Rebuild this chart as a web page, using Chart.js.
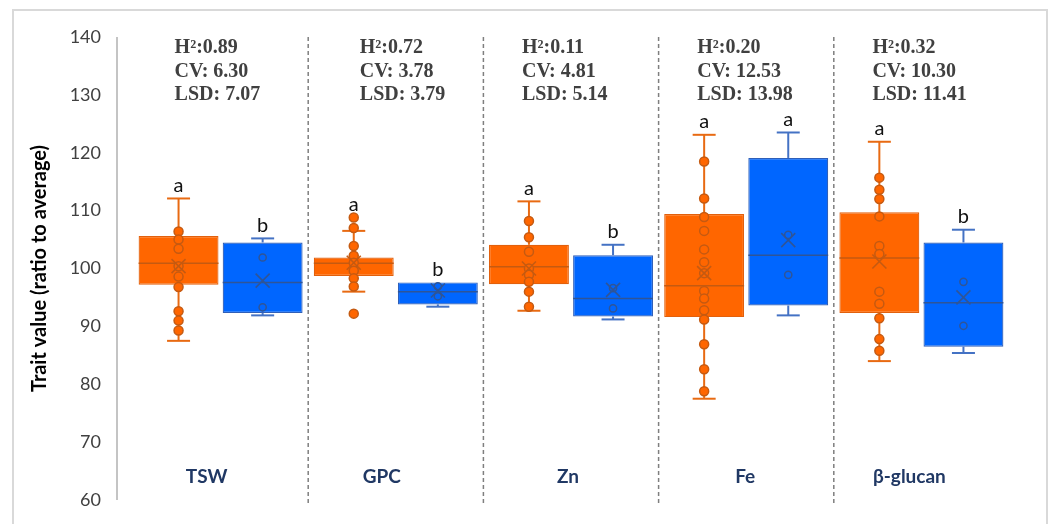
<!DOCTYPE html>
<html>
<head>
<meta charset="utf-8">
<script src="https://cdn.jsdelivr.net/npm/chart.js@4.4.1/dist/chart.umd.min.js"></script>
<style>
  html, body { margin: 0; padding: 0; background: #ffffff; }
  #wrap { position: relative; width: 1052px; height: 524px; overflow: hidden; }
  #frame { position: absolute; left: 12px; top: 9px; width: 1032px; height: 600px; border: 2px solid #d9d9d9; }
  canvas { position: absolute; left: 0; top: 0; }
</style>
</head>
<body>
<div id="wrap">
  <div id="frame"></div>
  <canvas id="chart" width="1052" height="524"></canvas>
</div>
<script>
// Traits (one box pair per trait)
const traits = ['TSW', 'GPC', 'Zn', 'Fe', 'β-glucan'];

// Orange group: five-number summary, mean and individual values
const orangeMin    = [87.5, 96.0, 92.7, 77.5, 84.0];
const orangeQ1     = [97.2, 98.7, 97.3, 91.6, 92.3];
const orangeMedian = [100.9, 100.9, 100.3, 97.0, 101.8];
const orangeQ3     = [105.6, 101.9, 104.1, 109.4, 109.7];
const orangeMax    = [112.1, 106.5, 111.6, 123.1, 121.9];
const orangeMean   = [100.4, 101.0, 100.0, 99.2, 101.2];
const orangePoints = [
  [106.4, 105.0, 103.4, 100.4, 98.6, 96.8, 92.6, 91.0, 89.3],
  [108.8, 107.0, 103.9, 102.2, 101.0, 99.6, 98.3, 96.9, 92.2],
  [108.2, 105.4, 102.9, 100.0, 98.9, 97.7, 96.0, 93.4],
  [118.5, 112.1, 108.9, 106.5, 103.3, 101.1, 99.2, 96.1, 94.8, 92.8, 91.2, 86.9, 82.6, 78.8],
  [115.7, 113.6, 112.0, 109.0, 103.9, 102.5, 96.0, 93.9, 91.4, 87.8, 85.8]
];
const orangeLetters = ['a', 'a', 'a', 'a', 'a'];

// Blue group
const blueMin    = [91.9, 93.4, 91.2, 91.9, 85.4];
const blueQ1     = [92.3, 93.8, 91.7, 93.6, 86.5];
const blueMedian = [97.6, 96.0, 94.8, 102.3, 94.1];
const blueQ3     = [104.5, 97.6, 102.3, 119.1, 104.5];
const blueMax    = [105.2, 97.6, 104.1, 123.5, 106.7];
const blueMean   = [97.9, 96.2, 96.3, 104.9, 95.0];
const bluePoints = [
  [101.9, 93.3],
  [96.9, 95.2],
  [96.6, 93.1],
  [105.8, 98.9],
  [97.7, 90.1]
];
const blueLetters = ['b', 'b', 'b', 'a', 'b'];

// Statistics printed at the top of each panel
const heritability = [0.89, 0.72, 0.11, 0.20, 0.32];
const cvValues     = [6.30, 3.78, 4.81, 12.53, 10.30];
const lsdValues    = [7.07, 3.79, 5.14, 13.98, 11.41];

// Y axis
const yMin = 60, yMax = 140, yStep = 10;

// Layout of the text blocks (pixel offsets from each category centre)
const noteOffsets  = [-46, -36, -49, -49, -49];
const labelOffsets = [-14, -14, -3, -1, -12];

const groups = [
  { min: orangeMin, q1: orangeQ1, med: orangeMedian, q3: orangeQ3, max: orangeMax,
    mean: orangeMean, pts: orangePoints, letters: orangeLetters,
    fill: '#FF6600', border: '#E2600C', whisker: '#E86A12', dark: '#C55A11', r: 4.5 },
  { min: blueMin, q1: blueQ1, med: blueMedian, q3: blueQ3, max: blueMax,
    mean: blueMean, pts: bluePoints, letters: blueLetters,
    fill: '#0066FF', border: '#2F5FB8', whisker: '#4472C4', dark: '#2F5597', r: 3.6 }
];

function seg(ctx, x1, y1, x2, y2) {
  ctx.beginPath(); ctx.moveTo(x1, y1); ctx.lineTo(x2, y2); ctx.stroke();
}

const panelDecor = {
  id: 'panelDecor',
  beforeDatasetsDraw(chart) {
    const { ctx, chartArea: a, scales: { x } } = chart;
    ctx.save();
    // left axis line, set a little away from the first panel
    ctx.strokeStyle = '#C4C4C4';
    ctx.lineWidth = 2;
    seg(ctx, a.left - 16, a.top, a.left - 16, a.bottom);
    // dashed separators between panels
    ctx.strokeStyle = '#7F7F7F';
    ctx.lineWidth = 1.5;
    ctx.setLineDash([4, 3]);
    for (let i = 0; i < traits.length - 1; i++) {
      const xs = (x.getPixelForValue(i) + x.getPixelForValue(i + 1)) / 2;
      seg(ctx, xs, a.top, xs, a.bottom + 5);
    }
    ctx.setLineDash([]);
    // panel statistics
    ctx.fillStyle = '#404040';
    ctx.font = 'bold 20px "Liberation Serif", "Times New Roman", serif';
    ctx.textAlign = 'left';
    ctx.textBaseline = 'middle';
    traits.forEach((t, i) => {
      const lx = x.getPixelForValue(i) + noteOffsets[i];
      ctx.fillText('H²:' + heritability[i].toFixed(2), lx, a.top + 11);
      ctx.fillText('CV: ' + cvValues[i].toFixed(2), lx, a.top + 34.5);
      ctx.fillText('LSD: ' + lsdValues[i].toFixed(2), lx, a.top + 58);
    });
    // trait names near the bottom of each panel
    ctx.fillStyle = '#203864';
    ctx.font = 'bold 19px Lato, "Liberation Sans", sans-serif';
    ctx.textAlign = 'center';
    traits.forEach((t, i) => {
      ctx.fillText(t, x.getPixelForValue(i) + labelOffsets[i], a.bottom - 23);
    });
    ctx.restore();
  },
  afterDatasetsDraw(chart) {
    const { ctx, scales: { y } } = chart;
    const py = v => y.getPixelForValue(v);
    groups.forEach((g, di) => {
      const meta = chart.getDatasetMeta(di);
      meta.data.forEach((bar, i) => {
        const cx = bar.x, hw = bar.width / 2;
        ctx.save();
        // whiskers and caps (none where the whisker has zero length)
        ctx.strokeStyle = g.whisker;
        ctx.lineWidth = 2;
        if (g.max[i] > g.q3[i]) {
          seg(ctx, cx, py(g.q3[i]), cx, py(g.max[i]));
          seg(ctx, cx - 11.5, py(g.max[i]), cx + 11.5, py(g.max[i]));
        }
        if (g.min[i] < g.q1[i]) {
          seg(ctx, cx, py(g.q1[i]), cx, py(g.min[i]));
          seg(ctx, cx - 11.5, py(g.min[i]), cx + 11.5, py(g.min[i]));
        }
        // median
        ctx.strokeStyle = g.dark;
        ctx.lineWidth = 1.5;
        seg(ctx, cx - hw, py(g.med[i]), cx + hw, py(g.med[i]));
        // individual values
        g.pts[i].forEach(v => {
          ctx.beginPath();
          ctx.arc(cx, py(v), g.r, 0, Math.PI * 2);
          ctx.fillStyle = g.fill;
          ctx.fill();
          ctx.strokeStyle = g.dark;
          ctx.lineWidth = 1.5;
          ctx.stroke();
        });
        // mean marker
        const my = py(g.mean[i]);
        ctx.strokeStyle = g.dark;
        ctx.lineWidth = 1.6;
        seg(ctx, cx - 7, my - 7, cx + 7, my + 7);
        seg(ctx, cx - 7, my + 7, cx + 7, my - 7);
        // significance letter above the highest mark
        const top = Math.min(py(g.max[i]), ...g.pts[i].map(py));
        ctx.fillStyle = '#111111';
        ctx.font = '20px Lato, "Liberation Sans", sans-serif';
        ctx.textAlign = 'center';
        ctx.textBaseline = 'middle';
        ctx.fillText(g.letters[i], cx, top - 13);
        ctx.restore();
      });
    });
  }
};

new Chart(document.getElementById('chart'), {
  type: 'bar',
  data: {
    labels: traits,
    datasets: groups.map(g => ({
      data: g.q1.map((q, i) => [q, g.q3[i]]),
      backgroundColor: g.fill,
      borderColor: g.border,
      borderWidth: 1.2,
      borderSkipped: false,
      categoryPercentage: 0.96,
      barPercentage: 0.95
    }))
  },
  options: {
    responsive: false,
    animation: false,
    devicePixelRatio: 1,
    layout: { padding: { left: 22, right: 43, top: 37, bottom: 24 } },
    plugins: { legend: { display: false }, tooltip: { enabled: false } },
    scales: {
      x: { display: false },
      y: {
        min: yMin, max: yMax,
        grid: { display: false, drawTicks: true, tickLength: 32 },
        border: { display: false },
        ticks: {
          stepSize: yStep,
          padding: 0,
          color: '#404040',
          font: { family: 'Lato, "Liberation Sans", sans-serif', size: 18 }
        },
        title: {
          display: true,
          text: 'Trait value (ratio to average)',
          color: '#000000',
          font: { family: 'Lato, "Liberation Sans", sans-serif', size: 20, weight: 'bold' },
          padding: { top: 6, bottom: 0 }
        },
        afterFit(scale) { scale.width = 111; }
      }
    }
  },
  plugins: [panelDecor]
});
</script>
</body>
</html>
